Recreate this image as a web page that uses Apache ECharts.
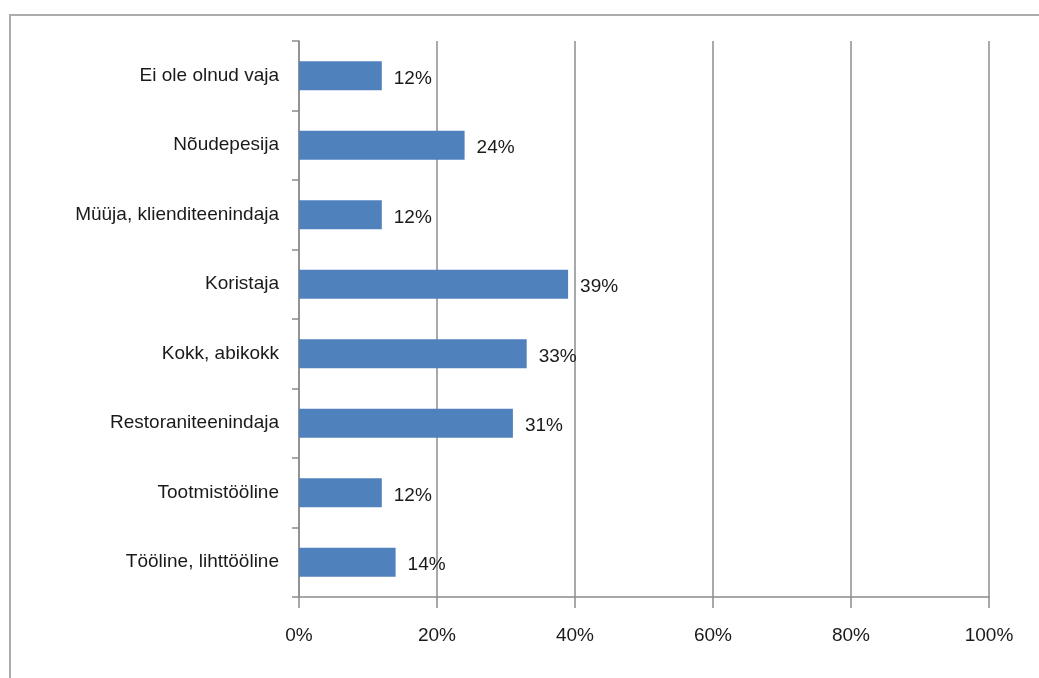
<!DOCTYPE html>
<html>
<head>
<meta charset="utf-8">
<script src="https://cdn.jsdelivr.net/npm/echarts@6/dist/echarts.min.js"></script>
<style>
  html, body { margin: 0; padding: 0; background: #fff; }
  #chart { width: 1039px; height: 678px; }
</style>
</head>
<body>
<div id="chart"></div>
<script>
// Occupations (bottom to top) and share of respondents, in percent
const categories = [
  'Tööline, lihttööline',
  'Tootmistööline',
  'Restoraniteenindaja',
  'Kokk, abikokk',
  'Koristaja',
  'Müüja, klienditeenindaja',
  'Nõudepesija',
  'Ei ole olnud vaja'
];
const shares = [14, 12, 31, 33, 39, 12, 24, 12];
const xTicks = [0, 20, 40, 60, 80, 100];

const FONT = '"Liberation Sans Narrow", "Liberation Sans", sans-serif';
const chart = echarts.init(document.getElementById('chart'), null, { renderer: 'canvas' });

chart.setOption({
  animation: false,
  backgroundColor: '#ffffff',
  grid: { left: 299, right: 50, top: 41, bottom: 81, containLabel: false },
  graphic: [{
    type: 'rect',
    shape: { x: 10, y: 15, width: 1100, height: 700 },
    style: { fill: 'none', stroke: '#acacac', lineWidth: 2 },
    silent: true
  }],
  xAxis: {
    type: 'value',
    min: xTicks[0],
    max: xTicks[xTicks.length - 1],
    interval: 20,
    axisLine: { show: true, lineStyle: { color: '#8c8c8c', width: 1.5 } },
    axisTick: { show: true, length: 11, lineStyle: { color: '#8c8c8c', width: 1.5 } },
    splitLine: { show: true, lineStyle: { color: '#8c8c8c', width: 1.5 } },
    axisLabel: {
      formatter: v => v + '%',
      color: '#1a1a1a',
      fontFamily: FONT,
      fontSize: 19,
      margin: 29
    }
  },
  yAxis: {
    type: 'category',
    data: categories,
    axisLine: { show: true, lineStyle: { color: '#8c8c8c', width: 1.5 } },
    axisTick: { show: true, length: 7, lineStyle: { color: '#8c8c8c', width: 1.5 } },
    splitLine: { show: false },
    axisLabel: {
      color: '#1a1a1a',
      fontFamily: FONT,
      fontSize: 19,
      margin: 20
    }
  },
  series: [{
    type: 'bar',
    data: shares,
    barWidth: 29,
    itemStyle: { color: '#4f81bd' },
    label: {
      show: true,
      position: 'right',
      distance: 12,
      offset: [0, 3],
      formatter: p => p.value + '%',
      color: '#1a1a1a',
      fontFamily: FONT,
      fontSize: 19
    }
  }]
});
</script>
</body>
</html>
